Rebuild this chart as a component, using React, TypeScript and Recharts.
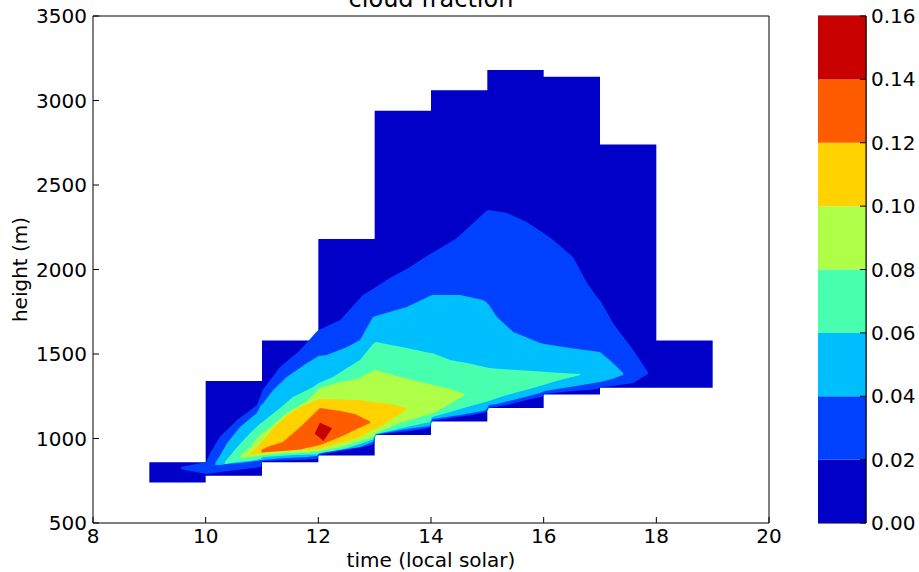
import { ComposedChart, Area, XAxis, YAxis, BarChart, Bar, ReferenceArea } from 'recharts';

const TIME_TICKS = [8, 10, 12, 14, 16, 18, 20];
const HEIGHT_TICKS = [500, 1000, 1500, 2000, 2500, 3000, 3500];
const LEVELS = [0, 0.02, 0.04, 0.06, 0.08, 0.1, 0.12, 0.14, 0.16];
// jet colours of the eight filled bands, low to high
const JET = ['#0000C8', '#0040FF', '#00BFFF', '#48FFAF', '#AFFF48', '#FFD200', '#FF5C00', '#C80000'];

// hourly columns that hold data: [hour, bottom (m), top (m)]
const footprint = [
  [9, 740, 860],
  [10, 780, 1340],
  [11, 860, 1580],
  [12, 900, 2180],
  [13, 1020, 2940],
  [14, 1100, 3060],
  [15, 1180, 3180],
  [16, 1260, 3140],
  [17, 1300, 2740],
  [18, 1300, 1580],
  [19, 1300, 1580],
];

// filled contour regions, each row [time, lower edge (m), upper edge (m)]
const frac02 = [
  [9.56, 820, 832], [10.01, 790, 861], [10.08, 793, 914], [10.25, 802, 1009],
  [10.56, 814, 1110], [10.91, 828, 1198], [10.98, 833, 1257], [11.01, 867, 1287],
  [11.32, 870, 1423], [11.68, 873, 1524], [11.98, 879, 1636], [12.01, 902, 1642],
  [12.39, 926, 1701], [12.79, 950, 1849], [12.97, 961, 1885], [13.02, 1021, 1896],
  [13.27, 1033, 1950], [13.63, 1044, 2015], [13.98, 1062, 2092], [14.02, 1104, 2098],
  [14.46, 1127, 2186], [14.75, 1139, 2275], [14.98, 1157, 2346], [15.03, 1181, 2352],
  [15.35, 1198, 2334], [15.7, 1228, 2281], [15.97, 1246, 2222], [16.02, 1263, 2210],
  [16.17, 1269, 2175], [16.52, 1281, 2074], [16.77, 1287, 1920], [16.96, 1293, 1831],
  [17.01, 1305, 1814], [17.23, 1311, 1683], [17.59, 1329, 1524], [17.85, 1382, 1394],
];

const frac04 = [
  [10.17, 843, 855], [10.25, 843, 897], [10.38, 849, 973], [10.61, 855, 1068],
  [10.91, 867, 1151], [10.98, 873, 1198], [11.01, 873, 1204], [11.2, 879, 1287],
  [11.44, 885, 1364], [11.8, 891, 1447], [11.98, 897, 1482], [12.01, 908, 1488],
  [12.15, 920, 1494], [12.51, 938, 1541], [12.74, 950, 1583], [12.97, 979, 1719],
  [13.02, 1024, 1725], [13.57, 1056, 1778], [13.98, 1074, 1843], [14.02, 1115, 1849],
  [14.52, 1139, 1849], [14.92, 1163, 1820], [14.98, 1169, 1808], [15.03, 1198, 1790],
  [15.17, 1204, 1719], [15.46, 1228, 1630], [15.94, 1269, 1565], [16.02, 1281, 1559],
  [16.47, 1305, 1536], [17.0, 1334, 1512], [17.21, 1352, 1453], [17.41, 1376, 1388],
];

const frac06 = [
  [10.34, 849, 861], [10.56, 861, 950], [10.79, 867, 1033], [10.98, 879, 1092],
  [11.01, 891, 1098], [11.32, 897, 1181], [11.55, 902, 1246], [11.91, 905, 1305],
  [11.98, 905, 1323], [12.01, 914, 1329], [12.26, 926, 1364], [12.51, 944, 1417],
  [12.74, 967, 1465], [12.97, 994, 1559], [13.02, 1027, 1571], [13.57, 1068, 1536],
  [13.98, 1098, 1506], [14.02, 1127, 1506], [14.34, 1157, 1465], [14.64, 1187, 1447],
  [15.03, 1222, 1417], [15.23, 1246, 1411], [15.81, 1299, 1400], [16.29, 1346, 1388],
  [16.65, 1376, 1382],
];

const frac08 = [
  [10.61, 885, 897], [10.79, 891, 950], [10.98, 897, 1027], [11.01, 902, 1033],
  [11.09, 902, 1050], [11.44, 914, 1151], [11.8, 917, 1222], [12.03, 926, 1299],
  [12.39, 950, 1334], [12.69, 979, 1352], [12.97, 1009, 1400], [13.02, 1033, 1406],
  [13.45, 1092, 1364], [14.04, 1151, 1317], [14.34, 1204, 1293], [14.6, 1257, 1263],
];

const frac10 = [
  [10.8, 902, 914], [10.91, 908, 950], [11.01, 914, 985], [11.2, 920, 1062],
  [11.44, 926, 1133], [11.68, 932, 1187], [12.01, 938, 1234], [12.69, 1003, 1228],
  [12.97, 1050, 1216], [13.15, 1080, 1210], [13.36, 1127, 1198], [13.57, 1172, 1178],
];

const frac12 = [
  [10.99, 917, 932], [11.09, 920, 950], [11.37, 926, 979], [11.68, 935, 1068],
  [12.03, 961, 1180], [12.39, 1009, 1162], [12.65, 1050, 1145], [12.92, 1092, 1100],
];

const frac14 = [
  [11.94, 1027, 1033], [12.03, 1003, 1094], [12.09, 985, 1084], [12.24, 1057, 1062],
];

const BANDS = [frac02, frac04, frac06, frac08, frac10, frac12, frac14];

const toRows = (rows: number[][]) => rows.map(([t, lo, hi]) => ({ t, h: [lo, hi] }));

const colorbarRow = [
  JET.reduce((acc: Record<string, any>, _c, i) => {
    acc['b' + i] = LEVELS[i + 1] - LEVELS[i];
    return acc;
  }, { name: 'cb' }),
];

const axisText = { fill: '#000', fontSize: 20 };
const black = { stroke: '#000' };

export default function App() {
  return (
    <div
      style={{
        position: 'absolute',
        left: 0,
        top: 0,
        width: 919,
        height: 572,
        overflow: 'hidden',
        background: '#fff',
        fontFamily: '"DejaVu Sans", sans-serif',
      }}
    >
      <div style={{ position: 'absolute', left: 0, top: 0 }}>
        <ComposedChart width={800} height={572} margin={{ top: 15, right: 30, bottom: 0, left: 0 }}>
          <XAxis
            xAxisId='b'
            type='number'
            dataKey='t'
            domain={[8, 20]}
            ticks={TIME_TICKS}
            interval={0}
            allowDataOverflow
            height={49}
            tickSize={-6}
            tickMargin={12}
            tick={axisText}
            axisLine={black}
            tickLine={black}
            label={{ value: 'time (local solar)', position: 'insideBottom', offset: 5, fill: '#000', fontSize: 20 }}
          />
          <XAxis
            xAxisId='t'
            orientation='top'
            type='number'
            dataKey='t'
            domain={[8, 20]}
            ticks={TIME_TICKS}
            interval={0}
            allowDataOverflow
            height={1}
            tickSize={-6}
            tick={false}
            axisLine={black}
            tickLine={black}
          />
          <YAxis
            yAxisId='l'
            type='number'
            domain={[500, 3500]}
            ticks={HEIGHT_TICKS}
            interval={0}
            allowDataOverflow
            width={93}
            tickSize={-6}
            tickMargin={12}
            tick={axisText}
            axisLine={black}
            tickLine={black}
            label={{
              value: 'height (m)',
              angle: -90,
              position: 'insideLeft',
              offset: 20,
              fill: '#000',
              fontSize: 20,
              style: { textAnchor: 'middle' },
            }}
          />
          <YAxis
            yAxisId='r'
            orientation='right'
            type='number'
            domain={[500, 3500]}
            ticks={HEIGHT_TICKS}
            interval={0}
            allowDataOverflow
            width={1}
            tickSize={-6}
            tick={false}
            axisLine={black}
            tickLine={black}
          />

          {/* invisible copy of the footprint so the top/right frame axes get drawn */}
          <Area
            xAxisId='t'
            yAxisId='r'
            data={toRows(footprint)}
            dataKey='h'
            type='stepAfter'
            fill='none'
            stroke='none'
            dot={false}
            activeDot={false}
            isAnimationActive={false}
          />
          <Area
            xAxisId='b'
            yAxisId='l'
            data={toRows(footprint)}
            dataKey='h'
            type='stepAfter'
            fill={JET[0]}
            fillOpacity={1}
            stroke='none'
            dot={false}
            activeDot={false}
            isAnimationActive={false}
          />
          {BANDS.map((rows, i) => (
            <Area
              key={i}
              xAxisId='b'
              yAxisId='l'
              data={toRows(rows)}
              dataKey='h'
              type='linear'
              fill={JET[i + 1]}
              fillOpacity={1}
              stroke='none'
              dot={false}
              activeDot={false}
              isAnimationActive={false}
            />
          ))}

          <text x={431} y={7} textAnchor='middle' fontSize={24} fill='#000'>
            cloud fraction
          </text>
        </ComposedChart>
      </div>

      <div style={{ position: 'absolute', left: 818, top: 0 }}>
        <BarChart
          width={101}
          height={572}
          data={colorbarRow}
          margin={{ top: 16, right: 0, bottom: 49, left: 0 }}
          barCategoryGap={0}
        >
          <XAxis dataKey='name' hide />
          <YAxis
            orientation='right'
            type='number'
            domain={[0, 0.16]}
            ticks={LEVELS}
            interval={0}
            allowDataOverflow
            width={53}
            tickSize={-6}
            tickMargin={11}
            tick={axisText}
            tickFormatter={(v) => Number(v).toFixed(2)}
            axisLine={black}
            tickLine={black}
          />
          {JET.map((c, i) => (
            <Bar key={c} dataKey={'b' + i} stackId='cb' fill={c} isAnimationActive={false} />
          ))}
          <ReferenceArea y1={0} y2={0.16} fill='none' stroke='#000' strokeWidth={1} ifOverflow='visible' />
        </BarChart>
      </div>
    </div>
  );
}
